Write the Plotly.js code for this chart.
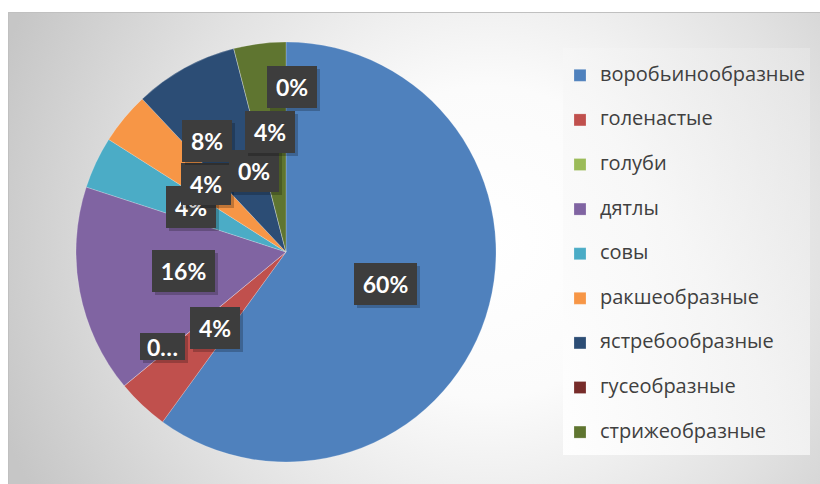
<!DOCTYPE html>
<html>
<head>
<meta charset="utf-8">
<script src="https://cdn.plot.ly/plotly-3.0.1.min.js"></script>
<style>html,body{margin:0;padding:0;background:#fff;}#chart{width:820px;height:484px;}</style>
</head>
<body>
<div id="chart"></div>
<script>
// ---- data ----
const categories = ['воробьинообразные','голенастые','голуби','дятлы','совы','ракшеобразные','ястребообразные','гусеобразные','стрижеобразные'];
const counts = [15, 1, 0, 4, 1, 1, 2, 0, 1];
// data labels as printed on the chart (Excel order, incl. a trailing 0% point)
const dataLabels = ['60%','4%','0…','16%','4%','4%','8%','0%','4%','0%'];

// ---- styles ----
const colors = ['#4F81BD','#C0504D','#9BBB59','#8064A2','#4BACC6','#F79646','#2C4D75','#772C2A','#5F7530'];
const W = 820, H = 484;
// label box centres / sizes in pixels (layout only)
const labelBoxes = [
  [385,284,63,42],[215,328,50,42],[162,346,45,27],[183,271,63,42],[191,207,50,42],
  [206,184,50,42],[207,141,50,42],[254,171,50,42],[270,132,50,42],[292,87,50,42]
];
const px = x => x / W, py = y => 1 - y / H;

const bgSvg = `<svg xmlns="http://www.w3.org/2000/svg" width="812" height="472" viewBox="0 0 812 472" preserveAspectRatio="none">
<defs>
<radialGradient id="g" cx="480" cy="230" r="520" gradientUnits="userSpaceOnUse">
<stop offset="0" stop-color="#ffffff"/><stop offset="0.3" stop-color="#fbfbfb"/><stop offset="0.65" stop-color="#e2e2e2"/><stop offset="1" stop-color="#c6c6c6"/>
</radialGradient>
<linearGradient id="lg" x1="0" y1="1" x2="1" y2="0">
<stop offset="0" stop-color="#ffffff" stop-opacity="0.9"/><stop offset="0.5" stop-color="#f6f6f6" stop-opacity="0.8"/><stop offset="1" stop-color="#e6e6e6" stop-opacity="0.7"/>
</linearGradient>
</defs>
<rect x="0" y="0" width="812" height="472" fill="url(#g)"/>
<rect x="555" y="36" width="247" height="407" fill="url(#lg)"/>
<path d="M0.5,472V0.5H812" fill="none" stroke="#c0c0c0" stroke-width="1"/>
</svg>`;

const annotations = [];
dataLabels.forEach((t, i) => {
  const [cx, cy, w, h] = labelBoxes[i];
  const common = {x: px(cx), y: py(cy), xref:'paper', yref:'paper', xanchor:'center', yanchor:'middle',
    showarrow:false, width:w, height:h, borderpad:0, borderwidth:0, valign:'middle', align:'center'};
  annotations.push(Object.assign({}, common, {xshift:3, yshift:-3, text:' ', bgcolor:'rgba(0,0,0,0.22)'}));
  annotations.push(Object.assign({}, common, {text:'<b>'+t+'</b>', bgcolor:'#3d3d3d',
    font:{family:'Lato, "Noto Sans", sans-serif', size:23, color:'#ffffff'}}));
});

const trace = {
  type:'pie',
  labels: categories.map(c => `<span style="font-size:20px;baseline-shift:7px">${c}</span>`),
  values: counts,
  sort:false,
  direction:'clockwise',
  rotation:0,
  textinfo:'none',
  hoverinfo:'none',
  marker:{colors: colors, line:{color:'rgba(255,255,255,0.35)', width:0.6}},
  domain:{x:[px(76), px(496)], y:[py(462), py(42)]}
};

const layout = {
  width: W, height: H,
  margin:{l:0,r:0,t:0,b:0},
  paper_bgcolor:'#ffffff',
  showlegend:true,
  legend:{x:px(560), y:py(48), xanchor:'left', yanchor:'top', bgcolor:'rgba(0,0,0,0)',
    font:{family:'"Open Sans", "Noto Sans", sans-serif', size:32, color:'#404040'}},
  images:[{source:'data:image/svg+xml;charset=utf-8,'+encodeURIComponent(bgSvg), xref:'paper', yref:'paper',
    x:px(8), y:py(12), sizex:812/W, sizey:472/H, xanchor:'left', yanchor:'top', sizing:'stretch', layer:'below'}],
  annotations: annotations
};

Plotly.newPlot('chart', [trace], layout, {displayModeBar:false, staticPlot:true});
</script>
</body>
</html>
